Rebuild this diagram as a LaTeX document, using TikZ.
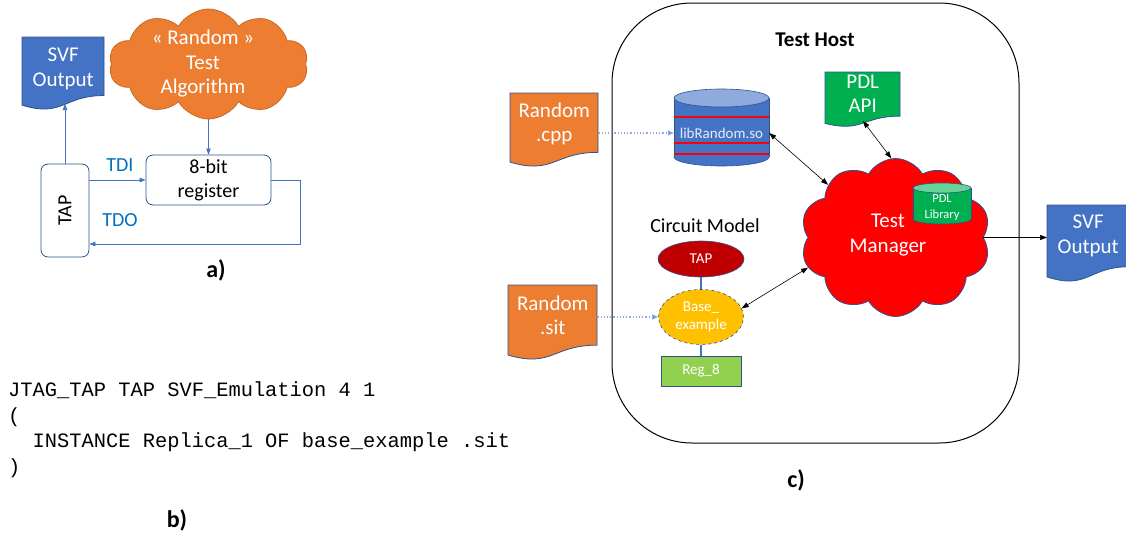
\documentclass[tikz,border=0pt]{standalone}
\usepackage{fontspec}
\setmainfont{Carlito}
\newfontfamily\codefont{Liberation Mono}
\usetikzlibrary{shapes.symbols,shapes.geometric,arrows.meta,calc}
\definecolor{corange}{HTML}{ED7D31}
\definecolor{cblue}{HTML}{4472C4}
\definecolor{clblue}{HTML}{8FAADC}
\definecolor{cgreen}{HTML}{00B050}
\definecolor{clgreen}{HTML}{66D496}
\definecolor{cdred}{HTML}{C00000}
\definecolor{cyellow}{HTML}{FFC000}
\definecolor{cregg}{HTML}{92D050}
\definecolor{cborder}{HTML}{2F528F}
\definecolor{ctxtblue}{HTML}{0070C0}
\definecolor{cpale}{HTML}{E6ECF7}
\newcommand\docshape[5]{%
  \pgfmathsetmacro\dsXb{#1+#3}\pgfmathsetmacro\dsXm{#1+0.5*#3}%
  \pgfmathsetmacro\dsYr{#2+0.802*#4}\pgfmathsetmacro\dsYc{#2+1.107*#4}\pgfmathsetmacro\dsYl{#2+0.934*#4}%
  \path[docpath,fill=#5] (#1,#2) -- (\dsXb,#2) -- (\dsXb,\dsYr) .. controls (\dsXm,\dsYr) and (\dsXm,\dsYc) .. (#1,\dsYl) -- cycle;}
\tikzset{
  docpath/.style={draw=cborder,line width=0.8pt},
  big/.style={font=\fontsize{20}{24}\selectfont},
  mid/.style={font=\fontsize{15}{18}\selectfont},
  doctext/.style={font=\fontsize{21}{24.5}\selectfont,text=white,align=center,inner sep=0pt},
  cloudshape/.style={cloud,cloud puffs=10,cloud puff arc=120,cloud ignores aspect,draw=cborder,line width=0.8pt,inner sep=0pt},
  aline/.style={draw=cblue,line width=0.7pt},
  atip/.style={-{Triangle[length=6pt,width=4.5pt]}},
  bline/.style={draw=black,line width=0.6pt,{Triangle[length=7pt,width=5pt]}-{Triangle[length=7pt,width=5pt]}},
  dline/.style={draw=clblue,line width=1.2pt,dotted,-{Triangle[length=6pt,width=5pt,fill=cblue]}},
  lab/.style={font=\bfseries\fontsize{24}{28}\selectfont},
  code/.style={font=\codefont\fontsize{20.4}{24}\selectfont,anchor=base west,inner sep=0pt},
  rbox/.style={draw=cborder,line width=0.8pt,rounded corners=7pt,fill=white,big,align=center}
}
\begin{document}
\begin{tikzpicture}[x=1pt,y=-1pt]
\useasboundingbox (0,0) rectangle (1126,533);
% ---------------- a)
\docshape{22}{37}{82}{73}{cblue}
\node[doctext,minimum width=82,minimum height=63,anchor=north west] (svfa) at (22,37) {SVF\\Output};
\coordinate (svfaB) at (65,104);
\node[cloudshape,fill=corange,draw=corange!85!black,minimum width=199,minimum height=110] (rac) at (208.5,64) {};
\node[doctext] (ractxt) at (203,64) {« Random »\\Test\\Algorithm};
\node[rbox,minimum width=125,minimum height=50] (reg) at (208.5,180) {8-bit\\register};
\node[rbox,minimum width=48,minimum height=93] (tap) at (65,210.5) {\rotatebox{90}{TAP}};
\draw[aline,atip] (rac.south) -- (reg.north);
\draw[aline,atip] (tap.north) -- (svfaB);
\draw[aline,atip] (tap.east |- reg.west) -- (reg.west);
\coordinate (tdoC) at (300,244);
\draw[aline,atip] (reg.east) -| (tdoC) -- (tdoC -| tap.east);
\node[big,text=ctxtblue] (tdi) at (120,165) {TDI};
\node[big,text=ctxtblue] (tdo) at (120,220) {TDO};
\node[lab] (la) at (216,270) {a)};
% ---------------- b)
\node[code] (c1) at (8,396.5) {JTAG\_TAP TAP SVF\_Emulation 4 1};
\node[code] (c2) at (8,422) {(};
\node[code] (c3) at (8,447.5) {\ \ INSTANCE Replica\_1 OF base\_example .sit};
\node[code] (c4) at (8,473) {)};
\node[lab] (lb) at (177,520) {b)};
% ---------------- c)
\node[draw=black,line width=1pt,rounded corners=80pt,minimum width=407,minimum height=440] (host) at (815.5,223) {};
\node[font=\bfseries\fontsize{21}{24}\selectfont] (hostt) at (815,40) {Test Host};
% libRandom cylinder
\path[fill=cblue,draw=cborder,line width=0.6pt] (721.5,157) ellipse [x radius=47.5,y radius=9];
\path[fill=cblue] (674,98) rectangle (769,157);
\draw[cborder,line width=0.6pt] (674,98) -- (674,157) (769,98) -- (769,157);
\draw[red,line width=1.5pt] (674,117) -- (769,117) (674,143) -- (769,143) (674,154) -- (769,154);
\path[fill=clblue,draw=cborder,line width=0.6pt] (721.5,98) ellipse [x radius=47.5,y radius=9];
\node[mid,text=cpale,minimum width=95,inner sep=0pt] (lib) at (721.5,133) {libRandom.so};
% Random.cpp
\docshape{510}{93}{88}{74}{corange}
\node[doctext,minimum width=88,minimum height=61,anchor=north west] (cpp) at (510,93) {Random\\.cpp};
\draw[dline] (lib.west -| cpp.east) -- (lib.west);
% PDL API
\docshape{825}{72}{75}{55}{cgreen}
\node[doctext,minimum width=75,minimum height=43,anchor=north west] (api) at (825,72) {PDL\\API};
\coordinate (apiB) at (863,121);
% Test Manager cloud
\node[cloudshape,fill=red,minimum width=190,minimum height=158] (tm) at (895.5,237.5) {};
\node[doctext] (tmt) at (888,235) {Test\\Manager};
% PDL Library cylinder
\path[fill=cgreen,draw=cborder,line width=0.6pt] (942,219) ellipse [x radius=29,y radius=5];
\path[fill=cgreen] (913,188) rectangle (971,219);
\draw[cborder,line width=0.6pt] (913,188) -- (913,219) (971,188) -- (971,219);
\path[fill=clgreen,draw=cborder,line width=0.6pt] (942,188) ellipse [x radius=29,y radius=5];
\node[font=\fontsize{12.5}{16}\selectfont,text=white,align=center,inner sep=0pt] (pdllib) at (942,207) {PDL\\Library};
% SVF Output c
\docshape{1047}{205}{82}{77}{cblue}
\node[doctext,minimum width=82,minimum height=61,anchor=north west] (svfc) at (1047,205) {SVF\\Output};
% Circuit model
\node[big] (cm) at (705,226) {Circuit Model};
\node[ellipse,fill=cdred,draw=cborder,line width=0.6pt,minimum width=86,minimum height=36,inner sep=0pt,mid,text=white] (ctap) at (701,259) {TAP};
\node[ellipse,fill=cyellow,draw=cborder,dashed,line width=0.6pt,minimum width=85,minimum height=55,inner sep=0pt,mid,text=white,align=center] (base) at (701,317) {Base\_\\example};
\node[rectangle,fill=cregg,draw=cborder,line width=0.6pt,minimum width=80,minimum height=30,inner sep=0pt,mid,text=white] (reg8) at (701,371) {Reg\_8};
\draw[cblue,line width=2pt] (ctap.south) -- (base.north);
\draw[cblue,line width=2pt] (base.south) -- (reg8.north);
% Random.sit
\docshape{508}{285}{89}{75}{corange}
\node[doctext,minimum width=89,minimum height=60,anchor=north west] (sit) at (508,285) {Random\\.sit};
\draw[dline] (base.west -| sit.east) -- (base.west);
% connectors
\draw[bline] (lib.east) -- (tm.142);
\draw[bline] (apiB) -- (tm.93);
\draw[bline] (base.12) -- (tm.199);
\draw[draw=black,line width=0.6pt,-{Triangle[length=7pt,width=5pt]}] (tm.east) -- (tm.east -| svfc.west);
\node[lab] (lc) at (796,480) {c)};
\end{tikzpicture}
\end{document}
